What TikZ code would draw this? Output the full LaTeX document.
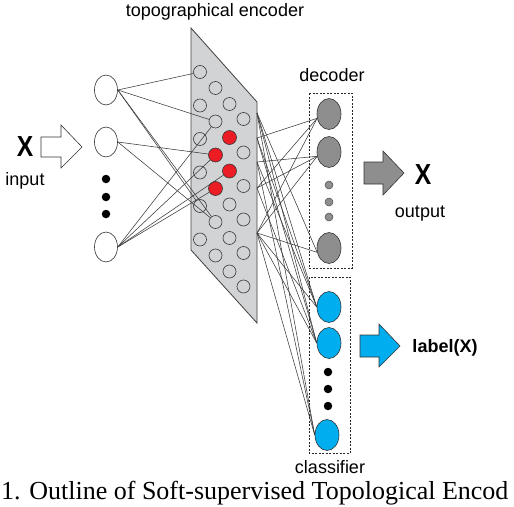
\documentclass[tikz,border=0pt]{standalone}
\usepackage{fontspec}
\setmainfont{Liberation Sans}
\newfontfamily\capfont{Liberation Serif}
\usetikzlibrary{shapes.geometric}
\definecolor{encgray}{HTML}{D2D3D5}
\definecolor{decgray}{HTML}{8E8E8E}
\definecolor{clscyan}{HTML}{00AEEF}
\definecolor{hotred}{HTML}{EC1C24}
\definecolor{wirecol}{HTML}{3A3A3A}
\tikzset{
  sheet/.style={draw=black!75, line width=0.8pt, fill=encgray},
  cell/.style={circle, draw=wirecol, line width=0.6pt, inner sep=0pt, minimum size=13pt},
  hotcell/.style={cell, fill=hotred, minimum size=14pt},
  inunit/.style={ellipse, draw=black!80, line width=0.6pt, fill=white, inner sep=0pt, minimum width=23pt, minimum height=30pt},
  decunit/.style={inunit, fill=decgray, minimum width=24pt, minimum height=31pt},
  clsunit/.style={inunit, fill=clscyan, minimum width=24pt, minimum height=31pt},
  blob/.style={circle, fill=black, inner sep=0pt, minimum size=8.5pt},
  decdot/.style={circle, draw=black!70, line width=0.5pt, fill=decgray, inner sep=0pt, minimum size=8pt},
  wire/.style={draw=wirecol, line width=0.55pt},
  dashbox/.style={draw=black!85, line width=0.6pt, dash pattern=on 2pt off 1.5pt},
  blockarrow/.style={draw=black!80, line width=0.6pt},
  lbl/.style={inner sep=0pt, font=\fontsize{18}{20}\selectfont},
  bigx/.style={inner sep=0pt, font=\bfseries\fontsize{29}{29}\selectfont}
}
\begin{document}
\begin{tikzpicture}[x=1pt, y=-1pt]
\useasboundingbox (0,0) rectangle (514,506);
\clip (0,0) rectangle (514,506);

% encoder sheet with its map units
\draw[sheet] (191,28) -- (257,102) -- (257,323) -- (191,250) -- cycle;
\node[lbl] (enctitle) at (215,12) {topographical encoder};
\foreach \k/\c/\x/\y in {1/A/200/72, 2/B/215.5/88, 3/C/229.5/104, 4/D/243.5/119}
  \foreach \r in {1,...,6} {
    \pgfmathtruncatemacro\ishot{((\k==2)&&(\r>2)&&(\r<5)) || ((\k==3)&&(\r>1)&&(\r<4))}
    \ifnum\ishot=1
      \node[hotcell] (\c\r) at ({\x},{\y+33.5*(\r-1)}) {};
    \else
      \node[cell] (\c\r) at ({\x},{\y+33.5*(\r-1)}) {};
    \fi
  }

% input layer
\node[inunit] (in1) at (106,90) {};
\node[inunit] (in2) at (106,142) {};
\node[blob] (indot1) at (106,179) {};
\node[blob] (indot2) at (106,197) {};
\node[blob] (indot3) at (106,214) {};
\node[inunit] (in3) at (106,247) {};
\node[bigx] (xin) at (25,147) {\scalebox{0.85}[1]{X}};
\node[lbl] (inlabel) at (25,181) {input};
\draw[blockarrow, fill=white] (41,137) -- (61,137) -- (61,125) -- (82,147) -- (61,168) -- (61,157) -- (41,157) -- cycle;

% decoder
\draw[dashbox] (309,93) rectangle (352,268);
\node[lbl] (declabel) at (332,75) {decoder};
\node[decunit] (d1) at (329,114) {};
\node[decunit] (d2) at (329,152) {};
\node[decdot] (ddot1) at (329,185) {};
\node[decdot] (ddot2) at (329,202) {};
\node[decdot] (ddot3) at (329,217) {};
\node[decunit] (d3) at (329,248) {};
\draw[blockarrow, fill=decgray] (364,162) -- (383,162) -- (383,151) -- (404,173) -- (383,195) -- (383,184) -- (364,184) -- cycle;
\node[bigx] (xout) at (423,175) {\scalebox{0.85}[1]{X}};
\node[lbl] (outlabel) at (420,214) {output};

% classifier
\draw[dashbox] (309,277) rectangle (350,453);
\node[clsunit] (c1) at (329,307) {};
\node[clsunit] (c2) at (329,343) {};
\node[blob] (cdot1) at (328,372) {};
\node[blob] (cdot2) at (328,389) {};
\node[blob] (cdot3) at (328,406) {};
\node[clsunit] (c3) at (327,435) {};
\node[lbl] (clslabel) at (330,467) {classifier};
\draw[blockarrow, fill=clscyan] (360,335) -- (379,335) -- (379,324) -- (400,346) -- (379,367) -- (379,357) -- (360,357) -- cycle;
\node[lbl, font=\bfseries\fontsize{18}{20}\selectfont] (classout) at (445,348) {label(X)};

% wiring
\foreach \a/\b in {in1/A1, in1/B2, in1/A5, in1/B5, in2/B3, in2/B5, in3/B2, in3/B3, in3/B4, in3/C3}
  \draw[wire] (\a.east) -- (\b);

\coordinate (s1) at (257,113);
\coordinate (s2) at (257,138);
\coordinate (s3) at (257,162);
\coordinate (s4) at (257,188);
\coordinate (s5) at (257,233);

\foreach \s/\t in {s2/d1, s4/d1, s5/d1, s3/d2, s4/d2, s5/d2, s1/d3, s5/d3}
  \draw[wire] (\s) -- (\t.200);
\foreach \s/\t in {s1/c1, s1/c2, s1/c3, s2/c1, s2/c2, s3/c1, s3/c3, s4/c2, s5/c1, s5/c2, s5/c3}
  \draw[wire] (\s) -- (\t.west);

\node[anchor=base west, inner sep=0pt, font=\capfont\fontsize{26}{26}\selectfont] (caption) at (1,499) {1. Outline of Soft-supervised Topological Encod};
\end{tikzpicture}
\end{document}
